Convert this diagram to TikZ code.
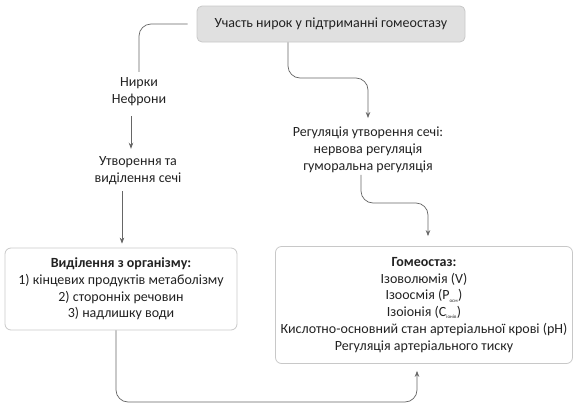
\documentclass[tikz,border=0pt]{standalone}
\usepackage{fontspec}
\setmainfont{Carlito}
\usetikzlibrary{arrows.meta}
\definecolor{txt}{HTML}{222222}
\definecolor{ln}{HTML}{666666}
\definecolor{bx}{HTML}{C8C8C8}
\definecolor{topfill}{HTML}{E0E0E0}
\tikzset{
  lbl/.style={align=center, text=txt, inner sep=2pt},
  topbox/.style={draw=bx, fill=topfill, rounded corners=5pt, text=txt, minimum width=268pt, minimum height=36pt, line width=0.8pt},
  bigbox/.style={draw=bx, rounded corners=6pt, align=center, text=txt, line width=0.8pt},
  conn/.style={draw=ln, line width=0.7pt, rounded corners=12pt},
  arr/.style={conn, -{Stealth[length=6pt,width=4.5pt]}}
}
\begin{document}
\begin{tikzpicture}[x=1pt,y=-1pt,font=\fontsize{14}{16.8}\selectfont]
\useasboundingbox (0,0) rectangle (573,410);
\node[topbox] (top) at (331,24) {Участь нирок у підтриманні гомеостазу};
\node[lbl] (kid) at (139,92) {Нирки\\Нефрони};
\node[lbl] (form) at (138,171) {Утворення та\\виділення сечі};
\node[lbl] (reg) at (368,150) {Регуляція утворення сечі:\\нервова регуляція\\гуморальна регуляція};
\node[bigbox, minimum width=232pt, minimum height=82pt] (out) at (121,289)
  {\textbf{Виділення з організму:}\\1) кінцевих продуктів метаболізму\\2) сторонніх речовин\\3) надлишку води};
\node[bigbox, minimum width=297pt, minimum height=117pt] (home) at (424,305)
  {\textbf{Гомеостаз:}\\Ізоволюмія (V)\\Ізоосмія (P\textsubscript{\fontsize{5}{5}\selectfont осм})\\Ізоіонія (C\textsubscript{\fontsize{5}{5}\selectfont іонів})\\Кислотно-основний стан артеріальної крові (pH)\\Регуляція артеріального тиску};
\coordinate (k1) at (0,78);
\coordinate (k2) at (0,203);
\coordinate (k3) at (0,402);
\coordinate (xr) at (428,0);
\coordinate (xb) at (116,0);
\coordinate (xh) at (417,0);
\draw[conn, shorten >=4pt] ([xshift=-9pt]top.west) -| (kid.north);
\draw[arr, shorten >=7pt] ([xshift=-43pt]top.south) |- (reg.north |- k1) -- (reg.north);
\draw[arr, shorten <=8pt, shorten >=6pt] (kid.south -| 131,0) -- (form.north -| 131,0);
\draw[arr, shorten <=4pt, shorten >=4pt] (form.south -| 122,0) -- (out.north -| 122,0);
\draw[arr, shorten >=10pt] (reg.south -| 361,0) |- (xr |- k2) -- (xr |- home.north);
\draw[arr, shorten >=7pt] (xb |- out.south) |- (xh |- k3) -- (xh |- home.south);
\end{tikzpicture}
\end{document}
